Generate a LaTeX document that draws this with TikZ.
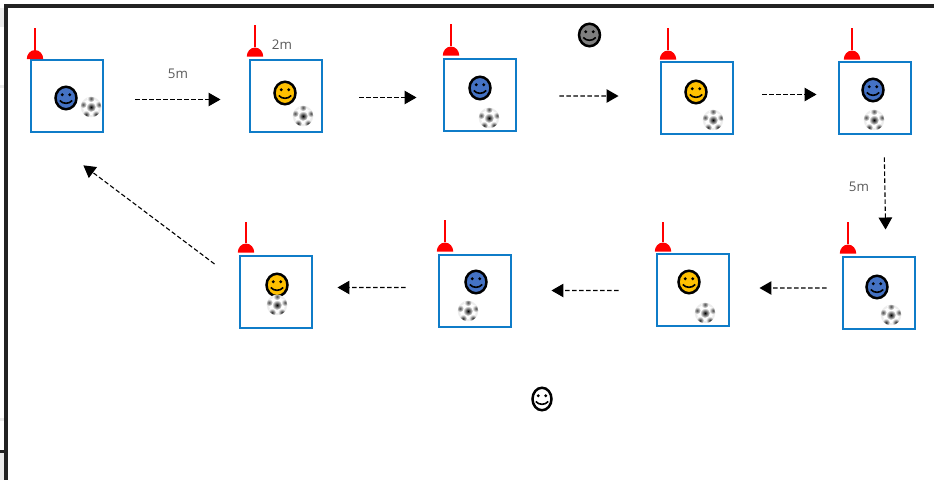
\documentclass[tikz,border=0pt]{standalone}
\usepackage{fontspec}
\setmainfont{Open Sans}
\usetikzlibrary{arrows.meta,shapes.geometric}
\definecolor{grid}{HTML}{0F7CC8}
\definecolor{blueFace}{HTML}{4472C4}
\definecolor{yellowFace}{HTML}{FFC000}
\definecolor{greyFace}{HTML}{7F7F7F}
\definecolor{frame}{HTML}{222222}
\definecolor{label}{HTML}{595959}
\tikzset{grid/.style={draw=grid,fill=white,rectangle,line width=.04cm,minimum size=1.46cm,inner sep=0pt}}
\tikzset{face/.style={draw=black,ellipse,line width=.05cm,minimum width=.42cm,minimum height=.45cm,inner sep=0pt,
    path picture={
        \fill[black] ([xshift=-.075cm,yshift=.065cm]path picture bounding box.center) circle (.034cm);
        \fill[black] ([xshift=.075cm,yshift=.065cm]path picture bounding box.center) circle (.034cm);
        \draw[black,line width=.032cm] ([xshift=-.125cm,yshift=-.05cm]path picture bounding box.center) to[bend right=50] ([xshift=.125cm,yshift=-.05cm]path picture bounding box.center);
    }}}
\tikzset{blueSmile/.style={face,fill=blueFace}}
\tikzset{yellowSmile/.style={face,fill=yellowFace}}
\tikzset{greySmile/.style={face,fill=greyFace}}
\tikzset{whiteSmile/.style={face,fill=white,minimum width=.38cm}}
\tikzset{ball/.style={circle,fill=black!7,minimum size=.41cm,inner sep=0pt,
    path picture={
        \coordinate (c) at (path picture bounding box.center);
        \fill[white] (c) circle (.16cm);
        \shade[inner color=black,outer color=white] (c) circle (.1cm);
        \shade[inner color=black!70,outer color=white] ([shift={(0,.17cm)}]c) circle (.075cm);
        \shade[inner color=black!70,outer color=white] ([shift={(.16cm,.05cm)}]c) circle (.075cm);
        \shade[inner color=black!70,outer color=white] ([shift={(-.16cm,.05cm)}]c) circle (.075cm);
        \shade[inner color=black!85,outer color=white] ([shift={(.1cm,-.15cm)}]c) circle (.08cm);
        \shade[inner color=black!85,outer color=white] ([shift={(-.1cm,-.15cm)}]c) circle (.08cm);
    }}}
\tikzset{dome/.style={semicircle,fill=red,minimum size=.165cm,inner sep=0pt,anchor=south,transform shape,yscale=1.1}}
\tikzset{pole/.style={draw=red,line width=.045cm}}
\tikzset{thinpole/.style={draw=red,line width=.025cm}}
\tikzset{flow/.style={draw=black,line width=.022cm,dash pattern=on .09cm off .05cm,-{Triangle[length=.24cm,width=.27cm]}}}
\tikzset{dist/.style={text=label,font=\fontsize{7.6pt}{9pt}\selectfont,inner sep=0pt}}

\begin{document}
\begin{tikzpicture}[x=.02cm,y=-.02cm]
            \useasboundingbox (0,0) rectangle (934,480);
            % window edge
            \fill[black!8] (0,8) rectangle (4,27);
            \fill[black!8] (0,85) rectangle (4,88);
            \fill[black!8] (0,418) rectangle (4,421);
            \fill[black!8] (0,453) rectangle (4,480);
            \fill[frame] (0,450) rectangle (5,453);
            \fill[frame] (4,4) rectangle (934,8);
            \fill[frame] (4,4) rectangle (8,480);

            % top row
            \node[grid] (box1) at (67,96) {};
            \node[grid] (box2) at (286,96) {};
            \node[grid] (box3) at (480,95) {};
            \node[grid] (box4) at (697,98) {};
            \node[grid] (box5) at (875,98) {};
            % bottom row
            \node[grid] (box6) at (879,293) {};
            \node[grid] (box7) at (693,290) {};
            \node[grid] (box8) at (475,291) {};
            \node[grid] (box9) at (276,292) {};

            \node[blueSmile] (face1) at (66,98) {};
            \node[yellowSmile] (face2) at (285,93) {};
            \node[blueSmile] (face3) at (480,88) {};
            \node[yellowSmile] (face4) at (696,92) {};
            \node[blueSmile] (face5) at (873,90) {};
            \node[blueSmile] (face6) at (877,287) {};
            \node[yellowSmile] (face7) at (689,282) {};
            \node[blueSmile] (face8) at (476,282) {};
            \node[yellowSmile] (face9) at (277,285) {};
            \node[greySmile] (coach) at (589.5,35) {};
            \node[whiteSmile] (player) at (542,399) {};

            \node[ball] (ball1) at (91,107) {};
            \node[ball] (ball2) at (303,116) {};
            \node[ball] (ball3) at (489,118) {};
            \node[ball] (ball4) at (713,120) {};
            \node[ball] (ball5) at (874,120) {};
            \node[ball] (ball6) at (891,315) {};
            \node[ball] (ball7) at (705,313) {};
            \node[ball] (ball8) at (468,311) {};
            \node[ball] (ball9) at (277,305) {};

            \node[dome] (dome1) at (35,59.5) {};
            \node[dome] (dome2) at (255,57) {};
            \node[dome] (dome3) at (451,56) {};
            \node[dome] (dome4) at (668,60) {};
            \node[dome] (dome5) at (852,60) {};
            \node[dome] (dome6) at (848,254) {};
            \node[dome] (dome7) at (663,252) {};
            \node[dome] (dome8) at (445,252) {};
            \node[dome] (dome9) at (246,253) {};
            \coordinate (top1) at (35,28);
            \coordinate (top2) at (255,25);
            \coordinate (top3) at (451,24);
            \coordinate (top4) at (668,28);
            \coordinate (top5) at (852,28);
            \coordinate (top6) at (848,222);
            \coordinate (top7) at (663,222);
            \coordinate (top8) at (445,220);
            \coordinate (top9) at (246,222);
            \draw[pole] (dome1.north) -- (top1);
            \draw[thinpole] (dome2.north) -- (top2);
            \draw[pole] (dome3.north) -- (top3);
            \draw[pole] (dome4.north) -- (top4);
            \draw[pole] (dome5.north) -- (top5);
            \draw[pole] (dome6.north) -- (top6);
            \draw[thinpole] (dome7.north) -- (top7);
            \draw[thinpole] (dome8.north) -- (top8);
            \draw[pole] (dome9.north) -- (top9);

            \draw[flow,shorten <=.62cm,shorten >=.56cm] ([yshift=-.07cm]box1.east) -- ([yshift=-.07cm]box2.west);
            \draw[flow,shorten <=.72cm,shorten >=.52cm] ([yshift=-.03cm]box2.east) -- ([yshift=-.05cm]box3.west);
            \draw[flow,shorten <=.84cm,shorten >=.82cm] ([yshift=-.02cm]box3.east) -- ([yshift=.04cm]box4.west);
            \draw[flow,shorten <=.56cm,shorten >=.42cm] ([yshift=.07cm]box4.east) -- ([yshift=.07cm]box5.west);
            \draw[flow,shorten <=.44cm,shorten >=.52cm] ([xshift=.18cm]box5.south) -- ([xshift=.14cm]box6.north);
            \draw[flow,shorten <=.3cm,shorten >=.58cm] ([yshift=.1cm]box6.west) -- ([yshift=.04cm]box7.east);
            \draw[flow,shorten <=.74cm,shorten >=.78cm] ([yshift=-.01cm]box7.west) -- ([yshift=.01cm]box8.east);
            \draw[flow,shorten <=.64cm,shorten >=.48cm] ([yshift=.07cm]box8.west) -- ([yshift=.09cm]box9.east);
            \draw[flow,shorten <=.6cm,shorten >=1.06cm] ([yshift=.2cm]box9.west) -- ([xshift=-.52cm]box1.south);

            \node[dist] (dist1) at (178,74) {5m};
            \node[dist] (dist2) at (282,45) {2m};
            \node[dist] (dist3) at (859,187) {5m};
\end{tikzpicture}
\end{document}
